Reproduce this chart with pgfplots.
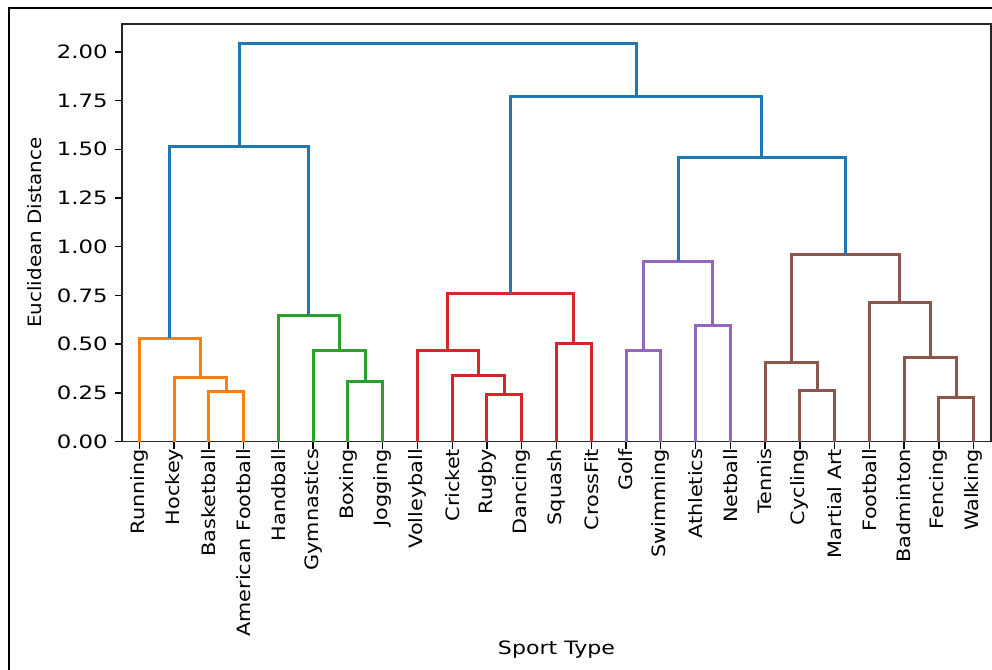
\documentclass[border=0pt]{standalone}
\usepackage{pgfplots}
\pgfplotsset{compat=1.18}
\usepackage{fontspec}
\setmainfont{DejaVu Sans}
\newfontfamily\xtfont[FakeStretch=1.13]{DejaVu Sans}
\newfontfamily\ytfont[FakeStretch=1.24]{DejaVu Sans}
\newfontfamily\xlfont[FakeStretch=1.2]{DejaVu Sans}
\newfontfamily\ylfont[FakeStretch=1.08]{DejaVu Sans}
\definecolor{cblue}{HTML}{1F77B4}
\definecolor{corange}{HTML}{FF7F0E}
\definecolor{cgreen}{HTML}{2CA02C}
\definecolor{cred}{HTML}{D62728}
\definecolor{cpurple}{HTML}{9467BD}
\definecolor{cbrown}{HTML}{8C564B}
\begin{document}
\fontsize{9.2}{11}\selectfont
\begin{tikzpicture}
\useasboundingbox (0,0) rectangle (496pt,-335pt);
\draw[line width=1pt,black] (4.5pt,-340pt) -- (4.5pt,-4pt) -- (500pt,-4pt);
\begin{axis}[
  at={(61pt,-220.75pt)}, anchor=south west,
  scale only axis, width=434.5pt, height=208.75pt,
  xmin=0, xmax=250, ymin=0, ymax=2.143,
  axis line style={line width=0.7pt, black!85},
  tick style={line width=0.7pt, black},
  tick align=outside, major tick length=3.5pt,
  tick pos=left,
  xtick={5,15,...,245},
  xticklabels={Running,Hockey,Basketball,American Football,Handball,Gymnastics,Boxing,Jogging,Volleyball,Cricket,Rugby,Dancing,Squash,CrossFit,Golf,Swimming,Athletics,Netball,Tennis,Cycling,Martial Art,Football,Badminton,Fencing,Walking},
  xticklabel style={rotate=90, anchor=east, inner sep=0pt, font=\xtfont\fontsize{9.2}{11}\selectfont},
  ytick={0,0.25,...,2.0},
  yticklabel style={/pgf/number format/fixed, /pgf/number format/fixed zerofill, /pgf/number format/precision=2, anchor=east, inner sep=0pt, xshift=-3.5pt, font=\ytfont\fontsize{9.2}{11}\selectfont},
  /pgf/number format/assume math mode=true,
  xlabel={Sport Type}, ylabel={Euclidean Distance},
  xlabel style={at={(axis description cs:0.5,-0.4994)}, anchor=center, font=\xlfont\fontsize{9.2}{11}\selectfont},
  ylabel style={at={(axis description cs:-0.1001,0.5)}, anchor=center, font=\ylfont\fontsize{9.2}{11}\selectfont},
  every axis plot/.append style={line width=1.5pt, line join=miter},
  clip=false,
]
% orange
\addplot[corange] coordinates {(25,0) (25,0.255) (35,0.255) (35,0)};
\addplot[corange] coordinates {(15,0) (15,0.328) (30,0.328) (30,0.255)};
\addplot[corange] coordinates {(5,0) (5,0.531) (22.5,0.531) (22.5,0.328)};
% green
\addplot[cgreen] coordinates {(65,0) (65,0.306) (75,0.306) (75,0)};
\addplot[cgreen] coordinates {(55,0) (55,0.467) (70,0.467) (70,0.306)};
\addplot[cgreen] coordinates {(45,0) (45,0.647) (62.5,0.647) (62.5,0.467)};
% red
\addplot[cred] coordinates {(105,0) (105,0.243) (115,0.243) (115,0)};
\addplot[cred] coordinates {(95,0) (95,0.337) (110,0.337) (110,0.243)};
\addplot[cred] coordinates {(85,0) (85,0.468) (102.5,0.468) (102.5,0.337)};
\addplot[cred] coordinates {(125,0) (125,0.501) (135,0.501) (135,0)};
\addplot[cred] coordinates {(93.75,0.468) (93.75,0.758) (130,0.758) (130,0.501)};
% purple
\addplot[cpurple] coordinates {(145,0) (145,0.466) (155,0.466) (155,0)};
\addplot[cpurple] coordinates {(165,0) (165,0.596) (175,0.596) (175,0)};
\addplot[cpurple] coordinates {(150,0.466) (150,0.924) (170,0.924) (170,0.596)};
% brown
\addplot[cbrown] coordinates {(195,0) (195,0.264) (205,0.264) (205,0)};
\addplot[cbrown] coordinates {(185,0) (185,0.408) (200,0.408) (200,0.264)};
\addplot[cbrown] coordinates {(235,0) (235,0.226) (245,0.226) (245,0)};
\addplot[cbrown] coordinates {(225,0) (225,0.431) (240,0.431) (240,0.226)};
\addplot[cbrown] coordinates {(215,0) (215,0.716) (232.5,0.716) (232.5,0.431)};
\addplot[cbrown] coordinates {(192.5,0.408) (192.5,0.960) (223.75,0.960) (223.75,0.716)};
% blue
\addplot[cblue] coordinates {(13.75,0.531) (13.75,1.512) (53.75,1.512) (53.75,0.647)};
\addplot[cblue] coordinates {(160,0.924) (160,1.457) (208.125,1.457) (208.125,0.960)};
\addplot[cblue] coordinates {(111.875,0.758) (111.875,1.772) (184.0625,1.772) (184.0625,1.457)};
\addplot[cblue] coordinates {(33.75,1.512) (33.75,2.041) (147.96875,2.041) (147.96875,1.772)};
\end{axis}
\end{tikzpicture}
\end{document}
